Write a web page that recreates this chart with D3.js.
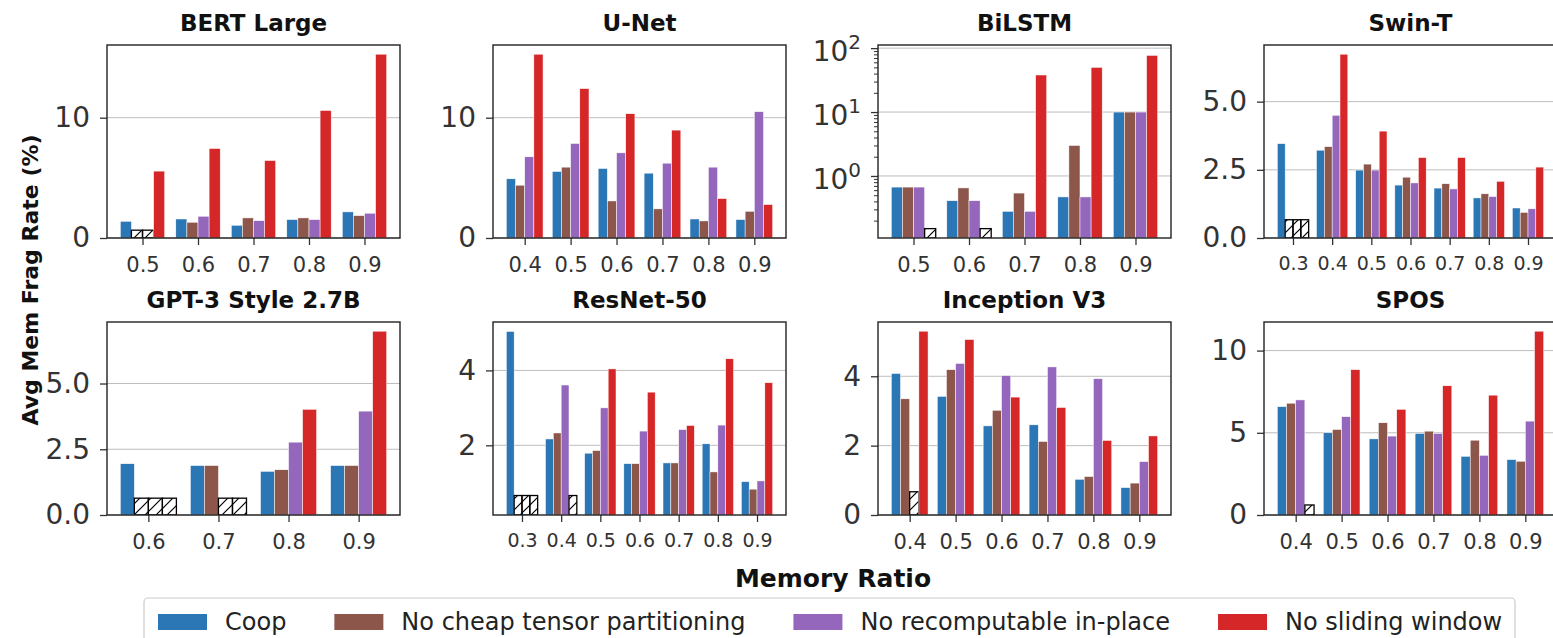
<!DOCTYPE html>
<html>
<head>
<meta charset="utf-8">
<script src="https://cdn.jsdelivr.net/npm/d3@7"></script>
<style>
body { margin: 0; background: #fff; }
svg text { font-family: 'DejaVu Sans', sans-serif; }
</style>
</head>
<body>
<svg id="chart" width="1553" height="638"></svg>
<script>
var seriesNames = ['Coop', 'No cheap tensor partitioning', 'No recomputable in-place', 'No sliding window'];
var seriesColors = ['#2b76b5', '#8c564b', '#9467bd', '#d62728'];

var panelTitles = ['BERT Large', 'U-Net', 'BiLSTM', 'Swin-T', 'GPT-3 Style 2.7B', 'ResNet-50', 'Inception V3', 'SPOS'];
var ratioLabels = [
    ['0.5', '0.6', '0.7', '0.8', '0.9'],
    ['0.4', '0.5', '0.6', '0.7', '0.8', '0.9'],
    ['0.5', '0.6', '0.7', '0.8', '0.9'],
    ['0.3', '0.4', '0.5', '0.6', '0.7', '0.8', '0.9'],
    ['0.6', '0.7', '0.8', '0.9'],
    ['0.3', '0.4', '0.5', '0.6', '0.7', '0.8', '0.9'],
    ['0.4', '0.5', '0.6', '0.7', '0.8', '0.9'],
    ['0.4', '0.5', '0.6', '0.7', '0.8', '0.9']
];

// one row per series (Coop, no cheap, no recomp, no sliding); null = hatched placeholder
var bertLarge = [
    [1.39, 1.58, 1.06, 1.53, 2.17],
    [null, 1.31, 1.67, 1.67, 1.86],
    [null, 1.81, 1.44, 1.53, 2.06],
    [5.56, 7.44, 6.44, 10.6, 15.28]
];
var uNet = [
    [4.92, 5.53, 5.78, 5.39, 1.58, 1.53],
    [4.39, 5.89, 3.08, 2.42, 1.42, 2.22],
    [6.75, 7.86, 7.08, 6.22, 5.89, 10.5],
    [15.28, 12.42, 10.33, 8.97, 3.28, 2.78]
];
var biLstm = [
    [0.67, 0.41, 0.28, 0.47, 10],
    [0.67, 0.65, 0.54, 3.0, 10],
    [0.67, 0.41, 0.28, 0.47, 10],
    [null, null, 38, 50, 77]
];
var swinT = [
    [3.46, 3.22, 2.49, 1.94, 1.83, 1.47, 1.10],
    [null, 3.35, 2.71, 2.23, 1.99, 1.62, 0.94],
    [null, 4.5, 2.49, 2.02, 1.80, 1.52, 1.07],
    [null, 6.74, 3.92, 2.95, 2.95, 2.08, 2.60]
];
var gpt3 = [
    [1.95, 1.88, 1.66, 1.88],
    [null, 1.88, 1.72, 1.88],
    [null, null, 2.77, 3.95],
    [null, null, 4.02, 6.99]
];
var resNet50 = [
    [5.04, 2.17, 1.79, 1.51, 1.53, 2.04, 1.03],
    [null, 2.33, 1.86, 1.51, 1.53, 1.29, 0.83],
    [null, 3.61, 3.0, 2.38, 2.42, 2.54, 1.05],
    [null, null, 4.04, 3.42, 2.53, 4.31, 3.67]
];
var inceptionV3 = [
    [4.08, 3.42, 2.57, 2.60, 1.03, 0.79],
    [3.35, 4.19, 3.02, 2.12, 1.11, 0.92],
    [null, 4.37, 4.02, 4.27, 3.93, 1.54],
    [5.30, 5.06, 3.40, 3.10, 2.15, 2.28]
];
var spos = [
    [6.59, 5.0, 4.63, 4.96, 3.57, 3.37],
    [6.80, 5.2, 5.61, 5.10, 4.55, 3.27],
    [7.0, 5.98, 4.80, 4.96, 3.63, 5.71],
    [null, 8.84, 6.43, 7.86, 7.29, 11.18]
];
var panelData = [bertLarge, uNet, biLstm, swinT, gpt3, resNet50, inceptionV3, spos];

var yTicks = [[0, 10], [0, 10], [1, 10, 100], [0, 2.5, 5], [0, 2.5, 5], [2, 4], [0, 2, 4], [0, 5, 10]];
var yMin = [0, 0, 0.107, 0, 0, 0.14, 0, 0];
var yMax = [null, null, 112, null, null, null, null, null]; //null -> max * 1.05
var placeholder = [0.65, 0.65, 0.15, 0.67, 0.64, 0.66, 0.67, 0.61];
var logPanel = 2;

var colX = [107, 493, 878, 1264];
var rowY = [45, 322];
var pw = 293, ph = 193;
var offsets = [-0.3, -0.1, 0.1, 0.3];

var svg = d3.select('#chart');

// '//' hatch like matplotlib
var defs = svg.append('defs');
defs.append('pattern')
    .attr('id', 'hatch')
    .attr('patternUnits', 'userSpaceOnUse')
    .attr('width', 11).attr('height', 11)
    .append('path')
    .attr('d', 'M0,11 L11,0 M-3,3 L3,-3 M8,14 L14,8')
    .attr('stroke', '#000').attr('stroke-width', 1.2);

function drawPanel(i) {
    var data = panelData[i], cats = ratioLabels[i], n = cats.length;
    var isLog = i == logPanel;
    var g = svg.append('g')
        .attr('transform', 'translate(' + colX[i % 4] + ',' + rowY[Math.floor(i / 4)] + ')');

    var pad = 0.05 * (n - 0.2);
    var x = d3.scaleLinear().domain([-0.4 - pad, n - 0.6 + pad]).range([0, pw]);
    var vals = d3.merge(data).filter(function (v) { return v != null; });
    var top = yMax[i] != null ? yMax[i] : d3.max(vals) * 1.05;
    var y = (isLog ? d3.scaleLog() : d3.scaleLinear()).domain([yMin[i], top]).range([ph, 0]);

    g.append('clipPath').attr('id', 'clip' + i)
        .append('rect').attr('width', pw).attr('height', ph);

    //grid
    g.selectAll('.grid').data(yTicks[i]).enter().append('line')
        .attr('x1', 0).attr('x2', pw)
        .attr('y1', function (d) { return y(d); }).attr('y2', function (d) { return y(d); })
        .attr('stroke', '#bdbdbd').attr('stroke-width', 1);

    var bw = x(0.2) - x(0);
    var bars = g.append('g').attr('clip-path', 'url(#clip' + i + ')');
    data.forEach(function (row, s) {
        bars.selectAll('.s' + s).data(row).enter().append('rect')
            .attr('x', function (d, j) { return x(j + offsets[s]) - bw / 2; })
            .attr('width', bw)
            .attr('y', function (d) { return y(d == null ? placeholder[i] : d); })
            .attr('height', function (d) { return ph - y(d == null ? placeholder[i] : d); })
            .attr('fill', function (d) { return d == null ? 'url(#hatch)' : seriesColors[s]; })
            .attr('stroke', function (d) { return d == null ? '#000' : '#fff'; })
            .attr('stroke-width', function (d) { return d == null ? 1.3 : 0.5; });
    });

    //y axis
    var fmt = (yTicks[i][1] == 2.5) ? d3.format('.1f') : d3.format('d');
    var ya = g.append('g').call(d3.axisLeft(y).tickValues(yTicks[i]).tickSize(7).tickPadding(10)
        .tickFormat(isLog ? function () { return ''; } : fmt));
    ya.select('.domain').remove();
    ya.selectAll('line').attr('stroke', '#333').attr('stroke-width', 1.3);
    ya.selectAll('text').attr('font-size', '28px').attr('fill', '#333').attr('font-family', 'DejaVu Sans');
    if (isLog) {
        var minor = [];
        [0.1, 1, 10].forEach(function (dec) {
            d3.range(2, 10).forEach(function (k) {
                var v = k * dec;
                if (v >= yMin[i] && v <= top) minor.push(v);
            });
        });
        var ym = g.append('g').call(d3.axisLeft(y).tickValues(minor).tickSize(4).tickFormat(''));
        ym.select('.domain').remove();
        ym.selectAll('line').attr('stroke', '#333').attr('stroke-width', 1);
        ya.selectAll('.tick text').each(function (d) {
            var t = d3.select(this).attr('dy', '0.45em');
            t.text('10');
            t.append('tspan').attr('dy', '-0.6em').attr('font-size', '20px').text(Math.round(Math.log10(d)));
        });
    }

    //x axis
    var xa = g.append('g').attr('transform', 'translate(0,' + ph + ')')
        .call(d3.axisBottom(x).tickValues(d3.range(n)).tickSize(7).tickPadding(12)
            .tickFormat(function (d) { return cats[d]; }));
    xa.select('.domain').remove();
    xa.selectAll('line').attr('stroke', '#333').attr('stroke-width', 1.3);
    xa.selectAll('text').attr('font-size', n == 7 ? '19px' : '21px').attr('fill', '#333')
        .attr('font-family', 'DejaVu Sans');

    g.append('rect').attr('width', pw).attr('height', ph)
        .attr('fill', 'none').attr('stroke', '#222').attr('stroke-width', 1.4);

    g.append('text').attr('x', pw / 2).attr('y', -14)
        .attr('text-anchor', 'middle').attr('font-size', '23px').attr('font-weight', 'bold')
        .attr('fill', '#111').text(panelTitles[i]);
}

d3.range(8).forEach(drawPanel);

svg.append('text')
    .attr('transform', 'translate(38,280) rotate(-90)')
    .attr('text-anchor', 'middle').attr('font-size', '22px').attr('font-weight', 'bold')
    .attr('fill', '#111').text('Avg Mem Frag Rate (%)');

svg.append('text').attr('x', 833).attr('y', 587)
    .attr('text-anchor', 'middle').attr('font-size', '25px').attr('font-weight', 'bold')
    .attr('fill', '#111').text('Memory Ratio');

//legend
var legend = svg.append('g');
legend.append('rect').attr('x', 144).attr('y', 598).attr('width', 1371).attr('height', 60)
    .attr('rx', 4).attr('fill', '#fff').attr('stroke', '#ccc').attr('stroke-width', 1.2);
var lx = 158;
seriesNames.forEach(function (name, s) {
    legend.append('rect').attr('x', lx).attr('y', 614).attr('width', 49).attr('height', 16)
        .attr('fill', seriesColors[s]);
    var t = legend.append('text').attr('x', lx + 67).attr('y', 622).attr('dy', '0.35em')
        .attr('font-size', '24px').attr('fill', '#222').text(name);
    lx += 67 + t.node().getComputedTextLength() + 48;
});
</script>
</body>
</html>
